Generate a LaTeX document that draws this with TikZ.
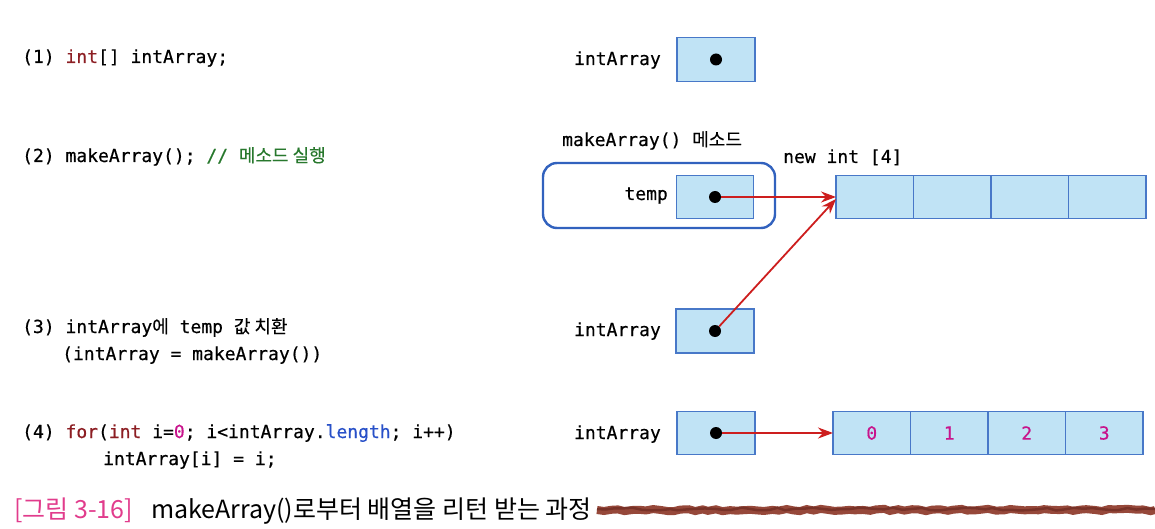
\documentclass[tikz,border=0pt]{standalone}
\usepackage{fontspec}
\setmainfont{DejaVu Sans Mono}
\newfontfamily\code[WordSpace={1,0,0},FakeBold=0.5]{DejaVu Sans Mono}
\newfontfamily\kr[FakeBold=0.3]{Noto Sans CJK KR}
\newfontfamily\krcap{Noto Sans CJK KR}
\usetikzlibrary{arrows.meta,decorations.pathmorphing}
\definecolor{boxfill}{RGB}{192,227,245}
\definecolor{boxline}{RGB}{72,120,200}
\definecolor{methodline}{RGB}{50,98,190}
\definecolor{arrowred}{RGB}{205,30,30}
\definecolor{kwred}{RGB}{140,30,35}
\definecolor{cmtgreen}{RGB}{40,120,45}
\definecolor{numpink}{RGB}{200,20,140}
\definecolor{lenblue}{RGB}{40,80,200}
\definecolor{figpink}{RGB}{225,60,140}
\definecolor{brushbrown}{RGB}{150,72,58}
\definecolor{brushdark}{RGB}{120,50,40}
\begin{document}
\begin{tikzpicture}[x=1pt,y=-1pt,
  codetxt/.style={font=\code\fontsize{18}{20}\selectfont, anchor=base west, inner sep=0pt},
  lbl/.style={codetxt, anchor=base east},
  boxcell/.style={draw=boxline, fill=boxfill, line width=1.3pt, minimum width=78pt, minimum height=44pt, inner sep=0pt, outer sep=0pt},
  acell/.style={boxcell, minimum width=77.5pt, text=numpink, font=\code\fontsize{18}{20}\selectfont},
  ptrdot/.style={circle, fill=black, minimum size=12pt, inner sep=0pt},
  ptr/.style={draw=arrowred, line width=1.8pt, -{Stealth[length=15pt,width=11pt]}},
  methodbox/.style={draw=methodline, line width=2.4pt, rounded corners=14pt, minimum width=232pt, minimum height=65pt, inner sep=0pt},
  brush/.style={draw=brushbrown, line width=8pt, decorate, decoration={random steps, segment length=7pt, amplitude=1.2pt}},
  brushline/.style={draw=brushdark, line width=2.5pt, decorate, decoration={random steps, segment length=9pt, amplitude=1.5pt}}
]
\useasboundingbox (0,0) rectangle (1155,529);

% left code text
\node[codetxt] (t1) at (22,63) {(1) \textcolor{kwred}{int}[] intArray;};
\node[codetxt] (t2) at (22,162) {(2) makeArray(); \textcolor{cmtgreen}{// {\kr 메소드 실행}}};
\node[codetxt] (t3a) at (22,333) {(3) intArray{\kr 에} temp {\kr 값 치환}};
\node[codetxt] (t3b) at (62,360) {(intArray = makeArray())};
\node[codetxt] (t4a) at (22,438) {(4) \textcolor{kwred}{for}(\textcolor{kwred}{int} i=\textcolor{numpink}{0}; i<intArray.\textcolor{lenblue}{length}; i++)};
\node[codetxt] (t4b) at (103,465) {intArray[i] = i;};

% (1)
\node[lbl] (l1) at (661,65) {intArray};
\node[boxcell] (b1) at (716,59.5) {};

% (2)
\node[codetxt] (mlabel) at (562,146) {makeArray() {\kr 메소드}};
\node[methodbox] (m) at (659,195.5) {};
\node[lbl] (l2) at (668,200) {temp};
\node[boxcell, minimum width=77pt, minimum height=43pt] (b2) at (715,197) {};
\node[codetxt] (newlbl) at (783,163) {new int [4]};
\node[acell, minimum height=43pt] (c1) at (874.75,197) {};
\node[acell, minimum height=43pt] (c2) at (952.25,197) {};
\node[acell, minimum height=43pt] (c3) at (1029.75,197) {};
\node[acell, minimum height=43pt] (c4) at (1107.25,197) {};

% (3)
\node[lbl] (l3) at (661,336) {intArray};
\node[boxcell] (b3) at (715,331) {};

% (4)
\node[lbl] (l4) at (661,439) {intArray};
\node[boxcell, minimum height=43pt] (b4) at (716,433) {};
\node[acell, minimum height=43pt] (e1) at (871.75,433) {0};
\node[acell, minimum height=43pt] (e2) at (949.25,433) {1};
\node[acell, minimum height=43pt] (e3) at (1026.75,433) {2};
\node[acell, minimum height=43pt] (e4) at (1104.25,433) {3};

% pointer dots
\node[ptrdot] (d1) at (b1.center) {};
\node[ptrdot] (d2) at (b2.center) {};
\node[ptrdot] (d3) at (b3.center) {};
\node[ptrdot] (d4) at (b4.center) {};

% arrows
\draw[ptr] (d2) -- (c1.west);
\draw[ptr] (d3) -- ([yshift=-2pt]c1.south west |- c1.west);
\draw[ptr] (d4) -- (e1.west);

% caption
\node[anchor=base west, inner sep=0pt, font=\krcap\fontsize{25}{28}\selectfont] (cap) at (14,518)
  {\textcolor{figpink}{[그림 3-16]}\hspace{18pt}makeArray()로부터 배열을 리턴 받는 과정};
\coordinate (bs) at (597,510);
\coordinate (be) at (1155,510);
\draw[brush] (bs) -- (be);
\draw[brushline] ([yshift=1pt]bs) -- ([yshift=1pt]be);
\end{tikzpicture}
\end{document}
